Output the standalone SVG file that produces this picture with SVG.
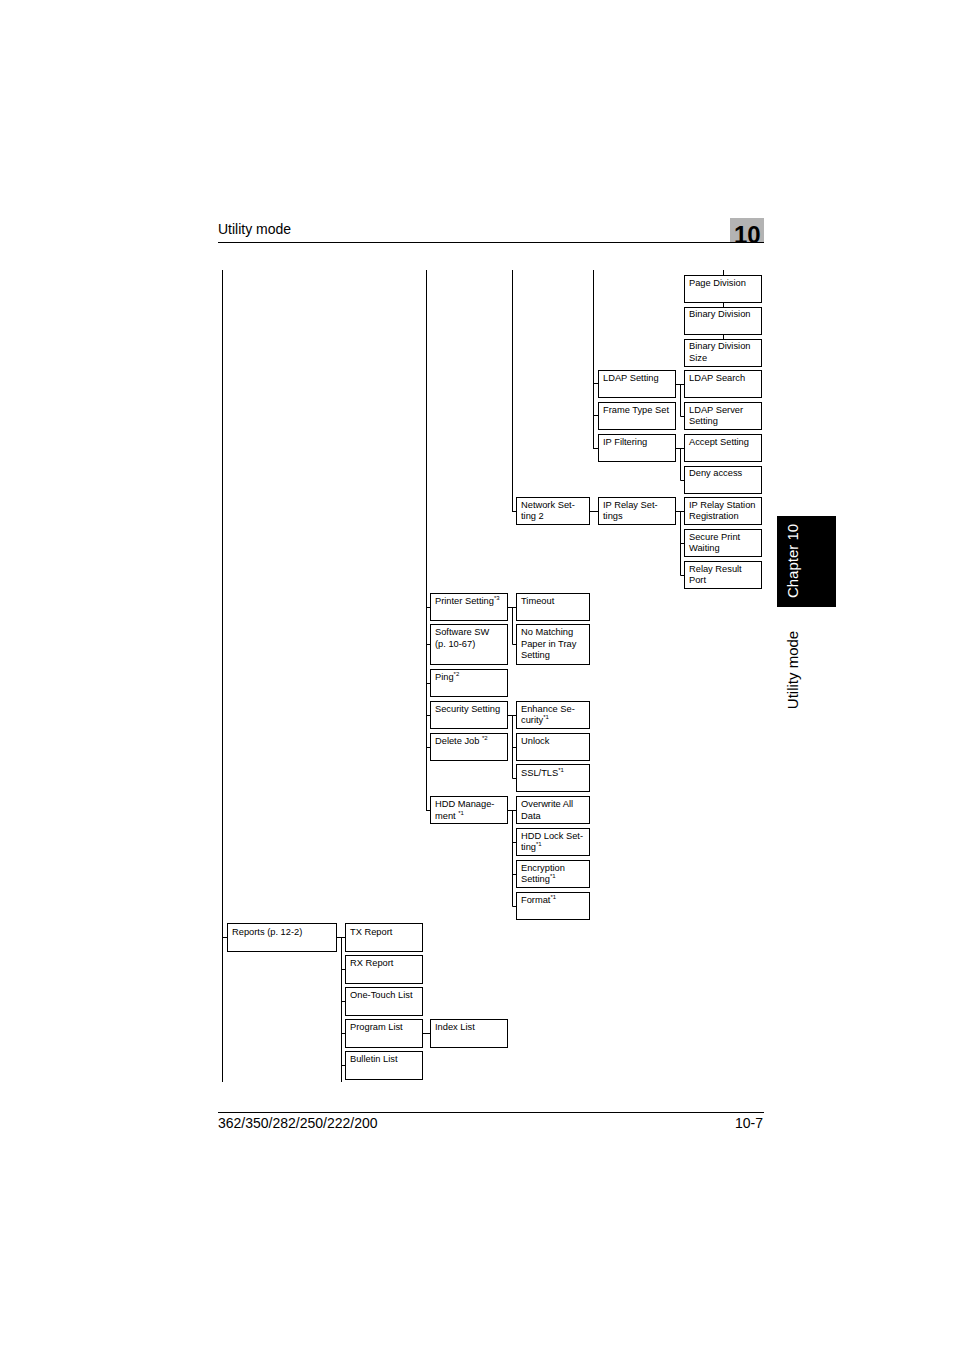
<svg xmlns="http://www.w3.org/2000/svg" width="954" height="1350" viewBox="0 0 954 1350">
<style>
text{font-family:"Liberation Sans",Arial,sans-serif;fill:#000}
.b rect{fill:#fff;stroke:#000;stroke-width:1}
.b text{font-size:9.3px}
.s{font-size:6px}
#c path{fill:none;stroke:#000;stroke-width:1}
</style>
<rect width="954" height="1350" fill="#fff"/>
<text x="218" y="234" font-size="14">Utility mode</text>
<rect x="730" y="218" width="34" height="24" fill="#b3b3b3"/>
<text x="734" y="243" font-size="24" font-weight="bold">10</text>
<line x1="218" y1="242.5" x2="764" y2="242.5" stroke="#000"/>
<line x1="218" y1="1112.5" x2="764" y2="1112.5" stroke="#000"/>
<text x="218" y="1128" font-size="14">362/350/282/250/222/200</text>
<text x="763" y="1128" font-size="14" text-anchor="end">10-7</text>
<rect x="777" y="516" width="59" height="91" fill="#000"/>
<text transform="translate(798,561) rotate(-90)" font-size="15" text-anchor="middle" style="fill:#fff">Chapter 10</text>
<text transform="translate(798,670) rotate(-90)" font-size="15" text-anchor="middle">Utility mode</text>
<g id="c">
<path d="M222.5 270V1082M426.5 270V810.5M512.5 270V511.5M593.5 270V448.5M723.5 270V275M723.5 302V307M723.5 334V339"/>
<path d="M593 383.5H598M593 415.5H598M593 448.5H598"/>
<path d="M675 384.5H680.5M680.5 384V416.5H684M680.5 384.5H684"/>
<path d="M675 448.5H680.5M680.5 448V480.5H684M680.5 448.5H684"/>
<path d="M512 511.5H516M589 511.5H598M675 511.5H680.5M680.5 511V575.5H684M680.5 543.5H684M680.5 511.5H684"/>
<path d="M426 607.5H430M426 644.5H430M426 683.5H430M426 715.5H430M426 747.5H430M426 810.5H430"/>
<path d="M508 607.5H512.5M512.5 607V644.5H516M512.5 607.5H516"/>
<path d="M508 715.5H512.5M512.5 715V778.5H516M512.5 715.5H516M512.5 747.5H516"/>
<path d="M508 810.5H512.5M512.5 810V906.5H516M512.5 810.5H516M512.5 842.5H516M512.5 874.5H516"/>
<path d="M222 937.5H227M336 937.5H341.5M341.5 937V1082M341.5 937.5H345M341.5 969.5H345M341.5 1001.5H345M341.5 1033.5H345M341.5 1065.5H345M422 1033.5H430"/>
</g>
<g class="b">
<g id="n1"><rect x="684.5" y="275.5" width="77" height="27"/><text x="689" y="286">Page Division</text></g>
<g id="n2"><rect x="684.5" y="307.5" width="77" height="27"/><text x="689" y="317">Binary Division</text></g>
<g id="n3"><rect x="684.5" y="339.5" width="77" height="27"/><text x="689" y="349">Binary Division</text><text x="689" y="361">Size</text></g>
<g id="n4"><rect x="598.5" y="370.5" width="77" height="27"/><text x="603" y="381">LDAP Setting</text></g>
<g id="n5"><rect x="684.5" y="370.5" width="77" height="27"/><text x="689" y="381">LDAP Search</text></g>
<g id="n6"><rect x="598.5" y="402.5" width="77" height="27"/><text x="603" y="413">Frame Type Set</text></g>
<g id="n7"><rect x="684.5" y="402.5" width="77" height="27"/><text x="689" y="413">LDAP Server</text><text x="689" y="424">Setting</text></g>
<g id="n8"><rect x="598.5" y="434.5" width="77" height="27"/><text x="603" y="445">IP Filtering</text></g>
<g id="n9"><rect x="684.5" y="434.5" width="77" height="27"/><text x="689" y="445">Accept Setting</text></g>
<g id="n10"><rect x="684.5" y="466.5" width="77" height="27"/><text x="689" y="476">Deny access</text></g>
<g id="n11"><rect x="516.5" y="497.5" width="73" height="27"/><text x="521" y="508">Network Set-</text><text x="521" y="519">ting 2</text></g>
<g id="n12"><rect x="598.5" y="497.5" width="77" height="27"/><text x="603" y="508">IP Relay Set-</text><text x="603" y="519">tings</text></g>
<g id="n13"><rect x="684.5" y="497.5" width="77" height="27"/><text x="689" y="508">IP Relay Station</text><text x="689" y="519">Registration</text></g>
<g id="n14"><rect x="684.5" y="529.5" width="77" height="27"/><text x="689" y="540">Secure Print</text><text x="689" y="551">Waiting</text></g>
<g id="n15"><rect x="684.5" y="561.5" width="77" height="27"/><text x="689" y="572">Relay Result</text><text x="689" y="583">Port</text></g>
<g id="n16"><rect x="430.5" y="593.5" width="77" height="27"/><text x="435" y="604">Printer Setting<tspan class="s" dy="-4">*3</tspan></text></g>
<g id="n17"><rect x="516.5" y="593.5" width="73" height="27"/><text x="521" y="604">Timeout</text></g>
<g id="n18"><rect x="430.5" y="624.5" width="77" height="40"/><text x="435" y="635">Software SW</text><text x="435" y="647">(p. 10-67)</text></g>
<g id="n19"><rect x="516.5" y="624.5" width="73" height="40"/><text x="521" y="635">No Matching</text><text x="521" y="647">Paper in Tray</text><text x="521" y="658">Setting</text></g>
<g id="n20"><rect x="430.5" y="669.5" width="77" height="27"/><text x="435" y="680">Ping<tspan class="s" dy="-4">*2</tspan></text></g>
<g id="n21"><rect x="430.5" y="701.5" width="77" height="27"/><text x="435" y="712">Security Setting</text></g>
<g id="n22"><rect x="516.5" y="701.5" width="73" height="27"/><text x="521" y="712">Enhance Se-</text><text x="521" y="723">curity<tspan class="s" dy="-4">*1</tspan></text></g>
<g id="n23"><rect x="430.5" y="733.5" width="77" height="27"/><text x="435" y="744">Delete Job <tspan class="s" dy="-4">*2</tspan></text></g>
<g id="n24"><rect x="516.5" y="733.5" width="73" height="27"/><text x="521" y="744">Unlock</text></g>
<g id="n25"><rect x="516.5" y="764.5" width="73" height="27"/><text x="521" y="776">SSL/TLS<tspan class="s" dy="-4">*1</tspan></text></g>
<g id="n26"><rect x="430.5" y="796.5" width="77" height="27"/><text x="435" y="807">HDD Manage-</text><text x="435" y="819">ment <tspan class="s" dy="-4">*1</tspan></text></g>
<g id="n27"><rect x="516.5" y="796.5" width="73" height="27"/><text x="521" y="807">Overwrite All</text><text x="521" y="819">Data</text></g>
<g id="n28"><rect x="516.5" y="828.5" width="73" height="27"/><text x="521" y="839">HDD Lock Set-</text><text x="521" y="850">ting<tspan class="s" dy="-4">*1</tspan></text></g>
<g id="n29"><rect x="516.5" y="860.5" width="73" height="27"/><text x="521" y="871">Encryption</text><text x="521" y="882">Setting<tspan class="s" dy="-4">*1</tspan></text></g>
<g id="n30"><rect x="516.5" y="892.5" width="73" height="27"/><text x="521" y="903">Format<tspan class="s" dy="-4">*1</tspan></text></g>
<g id="n31"><rect x="227.5" y="923.5" width="109" height="28"/><text x="232" y="935">Reports (p. 12-2)</text></g>
<g id="n32"><rect x="345.5" y="923.5" width="77" height="28"/><text x="350" y="935">TX Report</text></g>
<g id="n33"><rect x="345.5" y="955.5" width="77" height="28"/><text x="350" y="966">RX Report</text></g>
<g id="n34"><rect x="345.5" y="987.5" width="77" height="28"/><text x="350" y="998">One-Touch List</text></g>
<g id="n35"><rect x="345.5" y="1019.5" width="77" height="28"/><text x="350" y="1030">Program List</text></g>
<g id="n36"><rect x="430.5" y="1019.5" width="77" height="28"/><text x="435" y="1030">Index List</text></g>
<g id="n37"><rect x="345.5" y="1051.5" width="77" height="28"/><text x="350" y="1062">Bulletin List</text></g>
</g>
</svg>
